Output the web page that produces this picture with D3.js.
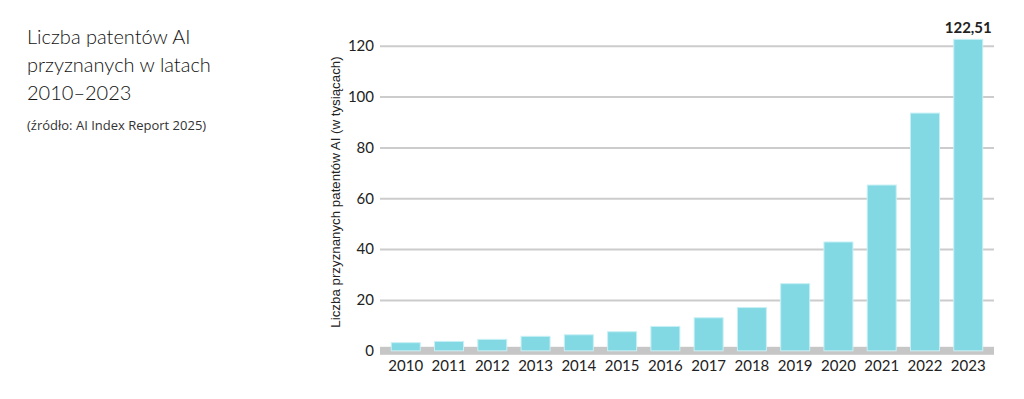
<!DOCTYPE html>
<html>
<head>
<meta charset="utf-8">
<script src="https://cdn.jsdelivr.net/npm/d3@7"></script>
<style>
  body { margin: 0; background: #fff; }
  svg text { font-family: "Lato", "Open Sans", sans-serif; fill: #222; }
</style>
</head>
<body>
<svg id="chart" width="1024" height="399"></svg>
<script>
const years = ["2010", "2011", "2012", "2013", "2014", "2015", "2016", "2017", "2018", "2019", "2020", "2021", "2022", "2023"];
const patents = [3.2, 3.7, 4.5, 5.7, 6.3, 7.5, 9.6, 13.0, 17.0, 26.4, 42.8, 65.2, 93.5, 122.51];
const yTicks = [0, 20, 40, 60, 80, 100, 120];
const titleLines = ["Liczba patentów AI", "przyznanych w latach", "2010–2023"];
const sourceText = "(źródło: AI Index Report 2025)";
const yTitle = "Liczba przyznanych patentów AI (w tysiącach)";

const svg = d3.select("#chart");
const plotLeft = 380, plotRight = 994, plotTop = 45.7, plotBottom = 350.8;

const x = d3.scaleBand()
    .domain(years)
    .range([plotLeft, plotRight])
    .paddingInner(0.33)
    .paddingOuter(0.26);
const y = d3.scaleLinear()
    .domain([0, 120])
    .range([plotBottom, plotTop]);

// title block
svg.selectAll(".title")
    .data(titleLines)
    .enter()
    .append("text")
    .attr("class", "title")
    .attr("x", 27)
    .attr("y", (d, i) => 43.5 + i * 28)
    .style("font-size", "20px")
    .style("font-weight", 300)
    .style("fill", "#111")
    .text(d => d);
svg.append("text")
    .attr("x", 27)
    .attr("y", 130)
    .style("font-family", "'Open Sans', sans-serif")
    .style("font-size", "13px")
    .style("fill", "#333")
    .text(sourceText);

// grid
const yAxis = d3.axisLeft(y)
    .tickValues(yTicks.filter(t => t > 0))
    .tickSize(-(plotRight - plotLeft))
    .tickPadding(6);
const gy = svg.append("g")
    .attr("transform", `translate(${plotLeft},0)`)
    .call(yAxis);
gy.select(".domain").remove();
gy.selectAll(".tick line").attr("stroke", "#cccccc").attr("stroke-width", 2);
gy.selectAll(".tick text").style("font-size", "15px").attr("x", -6);

// zero label
svg.append("text")
    .attr("x", plotLeft - 6)
    .attr("y", y(0))
    .attr("dy", "0.32em")
    .attr("text-anchor", "end")
    .style("font-size", "15px")
    .text(yTicks[0]);

// base band
svg.append("rect")
    .attr("x", plotLeft)
    .attr("y", y(0) - 4)
    .attr("width", plotRight - plotLeft)
    .attr("height", 8)
    .attr("fill", "#c6c6c6");

// bars
svg.selectAll(".bar")
    .data(years)
    .enter()
    .append("rect")
    .attr("class", "bar")
    .attr("x", d => x(d))
    .attr("y", (d, i) => y(patents[i]))
    .attr("width", x.bandwidth())
    .attr("height", (d, i) => y(0) - y(patents[i]))
    .attr("fill", "#82d9e3")
    .attr("stroke", "#c8f0f4")
    .attr("stroke-width", 1);

// x labels
const gx = svg.append("g")
    .attr("transform", `translate(0,${plotBottom + 4})`)
    .call(d3.axisBottom(x).tickSize(0).tickPadding(6));
gx.select(".domain").remove();
gx.selectAll(".tick text").style("font-size", "15px");

// value label on last bar
const last = years.length - 1;
svg.append("text")
    .attr("x", x(years[last]) + x.bandwidth() / 2)
    .attr("y", y(patents[last]) - 6)
    .attr("text-anchor", "middle")
    .style("font-size", "15px")
    .style("font-weight", 700)
    .text(String(patents[last]).replace(".", ","));

// y axis title
svg.append("text")
    .attr("transform", "translate(340,192) rotate(-90)")
    .attr("text-anchor", "middle")
    .style("font-family", "'Liberation Sans', Arial, sans-serif")
    .style("font-size", "13.3px")
    .text(yTitle);
</script>
</body>
</html>
